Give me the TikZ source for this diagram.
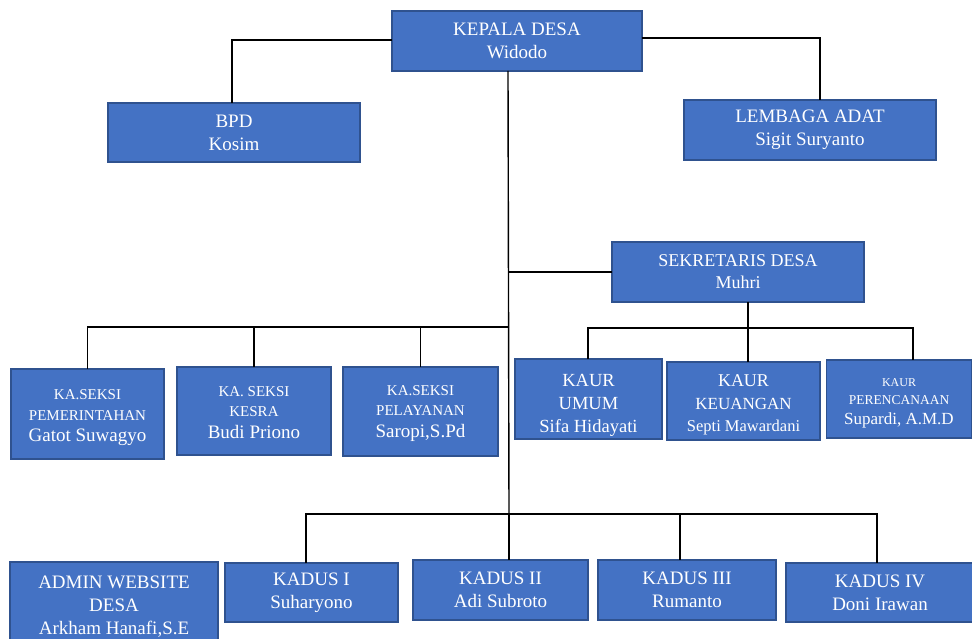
\documentclass[tikz,border=0pt]{standalone}
\usepackage{fontspec}
\setmainfont{Liberation Serif}
\definecolor{boxfill}{HTML}{4472C4}
\definecolor{boxedge}{HTML}{2F528F}
\tikzset{
  box/.style={draw=boxedge, line width=1.5pt, fill=boxfill, text=white, align=center,
    inner sep=0pt, outer sep=0pt, font=\fontsize{19}{23}\selectfont},
  link/.style={draw=black, line width=1.4pt}
}
\begin{document}
\begin{tikzpicture}[x=1pt,y=-1pt]
\useasboundingbox (0,0) rectangle (972,639);
\clip (0,0) rectangle (972,639);
\fill[white] (0,0) rectangle (972,639);
% top level
\node[box, minimum width=250, minimum height=60] (kepala) at (517,41) {KEPALA DESA\\Widodo};
\node[box, minimum width=252, minimum height=59] (bpd) at (234,132.5) {BPD\\Kosim};
\node[box, minimum width=252, minimum height=60] (adat) at (810,130) {LEMBAGA ADAT\\Sigit Suryanto};
\node[box, minimum width=252, minimum height=60, font=\fontsize{18}{22}\selectfont] (sek) at (738,272) {SEKRETARIS DESA\\Muhri};
% seksi
\node[box, minimum width=153, minimum height=90] (pem) at (87.5,414)
  {\rule{0pt}{17pt}\fontsize{15}{18}\selectfont KA.SEKSI\\[-2pt]\fontsize{15}{18}\selectfont PEMERINTAHAN\\[-2pt]\fontsize{19}{19}\selectfont Gatot Suwagyo};
\node[box, minimum width=154, minimum height=88] (kesra) at (254,411)
  {\rule{0pt}{13pt}\fontsize{15}{18}\selectfont KA. SEKSI\\[-3pt]\fontsize{15}{18}\selectfont KESRA\\[-1pt]\fontsize{19}{19}\selectfont Budi Priono};
\node[box, minimum width=155, minimum height=89] (pel) at (420.5,411.5)
  {\rule{0pt}{14pt}\fontsize{15}{18}\selectfont KA.SEKSI\\[-3pt]\fontsize{15}{18}\selectfont PELAYANAN\\[-1pt]\fontsize{19}{19}\selectfont Saropi,S.Pd};
% kaur
\node[box, minimum width=147, minimum height=80] (umum) at (588.5,399)
  {\rule{0pt}{24pt}\fontsize{18.5}{23}\selectfont KAUR\\\fontsize{18.5}{24}\selectfont UMUM\\\fontsize{18.5}{23}\selectfont Sifa Hidayati};
\node[box, minimum width=153, minimum height=78] (keu) at (743.5,401)
  {\rule{0pt}{20pt}\fontsize{18}{22}\selectfont KAUR\\\fontsize{17}{22}\selectfont KEUANGAN\\[-1pt]\fontsize{16.5}{21}\selectfont Septi Mawardani};
\node[box, minimum width=145, minimum height=78] (per) at (899,399)
  {\rule{0pt}{16pt}\fontsize{12}{15}\selectfont KAUR\\[-5pt]\fontsize{13.5}{16}\selectfont PERENCANAAN\\[-3pt]\fontsize{17}{18}\selectfont Supardi, A.M.D};
% kadus
\node[box, minimum width=208, minimum height=90, anchor=north] (admin) at (114,562)
  {ADMIN WEBSITE\\DESA\\Arkham Hanafi,S.E};
\node[box, minimum width=173, minimum height=59] (kadus1) at (311.5,592.5) {KADUS I\\Suharyono};
\node[box, minimum width=175, minimum height=60] (kadus2) at (500.5,590) {KADUS II\\Adi Subroto};
\node[box, minimum width=178, minimum height=60] (kadus3) at (687,590) {KADUS III\\Rumanto};
\node[box, minimum width=188, minimum height=59] (kadus4) at (880,592.5) {KADUS IV\\Doni Irawan};
% junction coordinates
\coordinate (ktop) at (508,71);
\coordinate (bpdj) at (232,40);
\coordinate (adatj) at (820,38);
\coordinate (sekj) at (509,272);
\coordinate (seksij) at (509,327);
\coordinate (kaurj) at (748,328);
\coordinate (kaurl) at (588,328);
\coordinate (kaurr) at (913,328);
\coordinate (kadusj) at (509,514);
\coordinate (kadusl) at (306,514);
\coordinate (kadus3j) at (680,514);
\coordinate (kadusr) at (877,514);
% connectors
\draw[link] (kepala.west |- bpdj) -- (bpdj) -- (bpdj |- bpd.north);
\draw[link] (kepala.east |- adatj) -- (adatj) -- (adatj |- adat.north);
\draw[link] (ktop) -- (kadusj);
\draw[link] (sekj) -- (sek.west);
\draw[link] (seksij) -- (seksij -| pem.north) -- (pem.north);
\draw[link] (kesra.north |- seksij) -- (kesra.north);
\draw[link] (pel.north |- seksij) -- (pel.north);
\draw[link] (kaurj |- sek.south) -- (kaurj) -- (keu.north -| kaurj);
\draw[link] (kaurl |- umum.north) -- (kaurl) -- (kaurr) -- (kaurr |- per.north);
\draw[link] (kadusl |- kadus1.north) -- (kadusl) -- (kadusr) -- (kadusr |- kadus4.north);
\draw[link] (kadusj) -- (kadusj |- kadus2.north);
\draw[link] (kadus3j) -- (kadus3j |- kadus3.north);
\end{tikzpicture}
\end{document}
